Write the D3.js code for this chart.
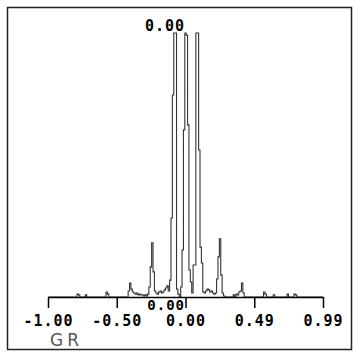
<!DOCTYPE html>
<html>
<head>
<meta charset="utf-8">
<script src="https://cdn.jsdelivr.net/npm/d3@7"></script>
<style>
  body { margin: 0; background: #fff; }
  svg { display: block; }
  .lbl { font-family: "DejaVu Sans Mono", monospace; font-size: 15px; font-weight: bold; letter-spacing: 1px; fill: #000; }
</style>
</head>
<body>
<svg id="chart" width="361" height="360"></svg>
<script>
// histogram of GR, bins of 0.01 starting at -1.00
const binWidth = 0.01;
const binLower = d3.range(200).map(i => -1 + i * binWidth);
const binCounts = [
    0, 0, 0, 0, 0, 0, 0, 0, 0, 0,
    0, 0, 0, 0, 0, 0, 0, 0, 0, 0,
    0, 1.1, 0.8, 0, 0, 0, 0, 0.8, 0, 0,
    0, 0, 0, 0, 0, 0, 0, 0, 0, 0,
    0, 0, 1.9, 1.1, 0, 0, 0, 0, 0, 0,
    0, 0, 0, 0, 0, 0, 0, 0, 2.3, 5.3,
    3.0, 1.9, 1.5, 1.1, 1.5, 0.8, 1.1, 0.8, 0.8, 0.4,
    0.8, 0.4, 1.1, 3.8, 11.4, 20.5, 9.5, 2.3, 1.5, 1.1,
    1.9, 2.3, 1.5, 1.9, 2.7, 3.4, 4.2, 2.3, 6.4, 29.9,
    76.5, 100, 100, 3.0, 1.1, 0, 3.8, 17.8, 63.3, 100,
    99.2, 65.2, 10.2, 5.7, 1.5, 12.1, 12.1, 100, 100, 55.7,
    18.9, 12.9, 1.9, 1.5, 2.3, 3.0, 2.7, 1.9, 2.3, 1.5,
    1.1, 1.5, 6.8, 15.2, 22.0, 8.3, 1.5, 0.4, 0, 0,
    0, 0, 0, 0, 0.8, 0, 1.1, 0.8, 1.9, 2.3,
    5.3, 1.5, 0, 0, 0, 0, 0, 0, 0, 0,
    0, 0, 0, 0, 0, 0, 1.9, 1.1, 0, 0,
    0, 0, 0, 0.8, 0, 0, 0, 0, 0, 0,
    0, 0, 0, 1.1, 0, 0, 0, 0, 1.1, 0.8,
    0, 0, 0, 0, 0, 0, 0, 0, 0, 0,
    0, 0, 0, 0, 0, 0, 0, 0, 0, 0
];
const tickValues = [-1, -0.5025, -0.005, 0.4925, 0.99];
const tickLabels = ["-1.00", "-0.50", "0.00", "0.49", "0.99"];
const countMax = 100;
const topLabel = "0.00";
const lowLabel = "0.00";
const axisTitle = "GR";

const svg = d3.select("#chart");

svg.append("rect")
    .attr("x", 7.5).attr("y", 7.5)
    .attr("width", 344).attr("height", 342)
    .attr("fill", "none")
    .attr("stroke", "#222")
    .attr("stroke-width", 1.5);

const x = d3.scaleLinear().domain([-1, 0.99]).range([48, 323]);
const y = d3.scaleLinear().domain([0, countMax]).range([297, 33]).clamp(true);

// step outline of the histogram
const points = [[binLower[0], 0]];
binLower.forEach((lo, i) => {
    points.push([lo, binCounts[i]]);
    points.push([lo + binWidth, binCounts[i]]);
});
points.push([binLower[binLower.length - 1] + binWidth, 0]);

const line = d3.line()
    .x(d => x(Math.min(d[0], 0.99)))
    .y(d => y(d[1]));

svg.append("path")
    .datum(points)
    .attr("d", line)
    .attr("fill", "none")
    .attr("stroke", "#333")
    .attr("stroke-width", 1.1);

const axis = d3.axisBottom(x)
    .tickValues(tickValues)
    .tickFormat((d, i) => tickLabels[i])
    .tickSize(11)
    .tickSizeOuter(0);

const gAxis = svg.append("g")
    .attr("transform", "translate(0,297)")
    .call(axis);

gAxis.select(".domain").attr("stroke", "#000").attr("stroke-width", 1.5);
gAxis.selectAll(".tick line").attr("stroke", "#000").attr("stroke-width", 1.5);
gAxis.selectAll(".tick text")
    .attr("class", "lbl")
    .attr("y", 18)
    .attr("dy", "0.71em")
    .attr("font-family", null)
    .attr("font-size", null);

svg.append("text")
    .attr("class", "lbl")
    .attr("x", 185)
    .attr("y", 31)
    .attr("text-anchor", "end")
    .text(topLabel);

svg.append("text")
    .attr("class", "lbl")
    .attr("x", 185)
    .attr("y", 310)
    .attr("text-anchor", "end")
    .style("font-size", "14px")
    .text(lowLabel);

svg.append("text")
    .attr("x", 50)
    .attr("y", 346)
    .attr("font-family", "DejaVu Sans, sans-serif")
    .attr("font-size", 17)
    .attr("letter-spacing", 4)
    .attr("fill", "#555")
    .text(axisTitle);
</script>
</body>
</html>
